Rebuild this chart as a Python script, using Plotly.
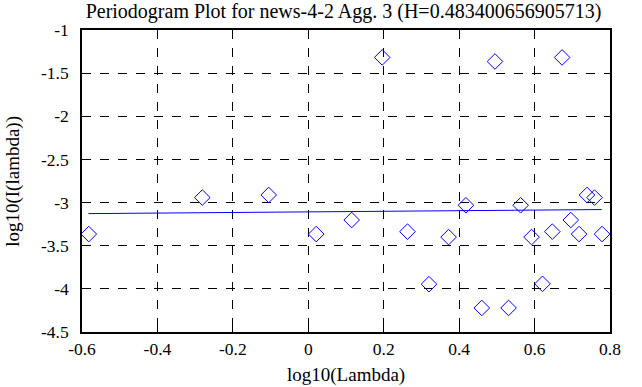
import plotly.graph_objects as go

log_lambda = [-0.582, -0.281, -0.105, 0.021, 0.115, 0.196, 0.263, 0.320, 0.372, 0.418,
              0.460, 0.495, 0.531, 0.563, 0.592, 0.621, 0.647, 0.673, 0.696, 0.718,
              0.739, 0.759, 0.779]
log_I = [-3.365, -2.942, -2.912, -3.365, -3.202, -1.318, -3.337, -3.946, -3.400, -3.031,
         -4.221, -1.365, -4.221, -3.031, -3.400, -3.942, -3.337, -1.318, -3.202, -3.365,
         -2.912, -2.942, -3.365]
fit_x = [-0.583, 0.778]
fit_y = [-3.128, -3.081]

x_ticks = [-0.6, -0.4, -0.2, 0, 0.2, 0.4, 0.6, 0.8]
x_labels = ["-0.6", "-0.4", "-0.2", "0", "0.2", "0.4", "0.6", "0.8"]
y_ticks = [-1, -1.5, -2, -2.5, -3, -3.5, -4, -4.5]
y_labels = ["-1", "-1.5", "-2", "-2.5", "-3", "-3.5", "-4", "-4.5"]

fam = "Liberation Serif, Times New Roman, serif"
tick_font = dict(family=fam, size=17.5, color="black")
label_font = dict(family=fam, size=19, color="black")
title_font = dict(family=fam, size=20, color="black")

fig = go.Figure()
fig.add_trace(go.Scatter(x=log_lambda, y=log_I, mode="markers",
                         marker=dict(symbol="diamond-open", size=12, color="blue",
                                     line=dict(width=1, color="blue")),
                         showlegend=False))
fig.add_trace(go.Scatter(x=fit_x, y=fit_y, mode="lines",
                         line=dict(color="blue", width=1), showlegend=False))

axis_common = dict(showline=True, linecolor="black", linewidth=1.5, mirror="ticks",
                   ticks="inside", ticklen=6, tickwidth=1, tickcolor="black",
                   showgrid=True, gridcolor="black", gridwidth=1, griddash="dash",
                   zeroline=False, tickfont=tick_font)

fig.update_xaxes(range=[-0.6, 0.8], tickvals=x_ticks, ticktext=x_labels, **axis_common)
fig.update_yaxes(range=[-4.5, -1], tickvals=y_ticks, ticktext=y_labels,
                 ticklabelstandoff=8, **axis_common)

fig.add_annotation(text="log10(Lambda)", xref="paper", yref="paper", x=0.5, y=-0.142,
                   xanchor="center", yanchor="middle", showarrow=False, font=label_font)
fig.add_annotation(text="log10(I(lambda))", xref="paper", yref="paper", x=-0.131, y=0.5,
                   xanchor="center", yanchor="middle", textangle=-90, showarrow=False,
                   font=label_font)

fig.update_layout(
    width=642, height=387,
    margin=dict(l=82, r=32, t=30, b=55),
    paper_bgcolor="white", plot_bgcolor="white",
    font=tick_font,
    hovermode=False,
    title=dict(text="Periodogram Plot for news-4-2 Agg. 3 (H=0.483400656905713)",
               x=0.535, xanchor="center", y=0.99, yanchor="top", font=title_font),
)

fig.write_html("out.html", config={"displayModeBar": False},
               post_script="document.body.style.margin='0';")
